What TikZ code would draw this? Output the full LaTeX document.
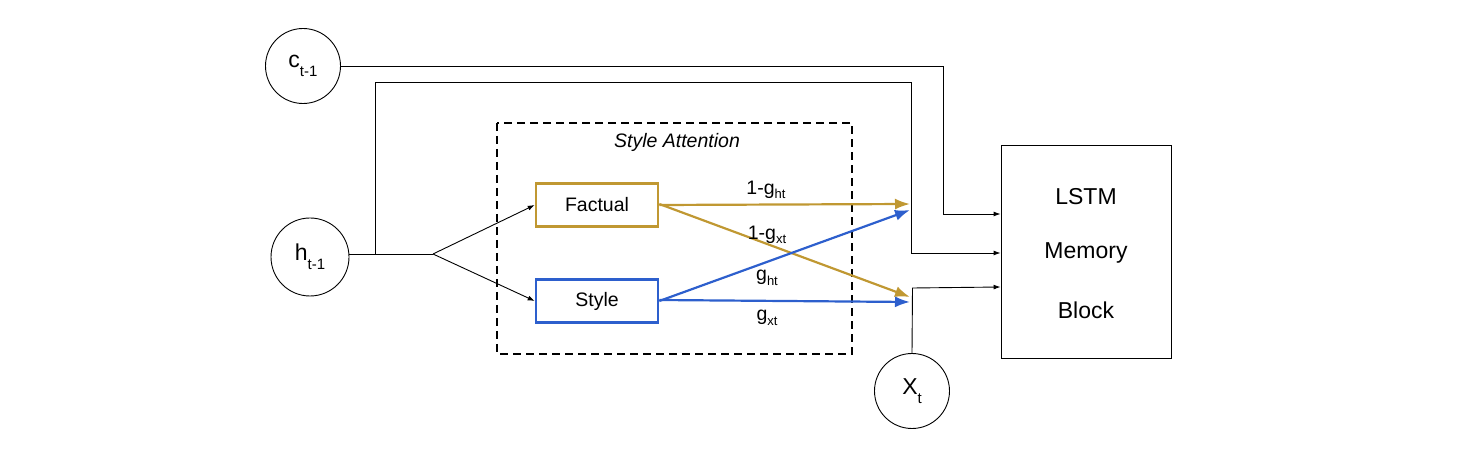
\documentclass[tikz,border=0pt]{standalone}
\usepackage{fontspec}
\setmainfont{Liberation Sans}
\usetikzlibrary{arrows.meta}
\definecolor{gold}{HTML}{C09832}
\definecolor{sblue}{HTML}{2D5FCD}
\newcommand\lsub[1]{\raisebox{-0.45ex}{\fontsize{13}{13}\selectfont #1}}
\newcommand\csub[1]{\raisebox{-0.75ex}{\fontsize{15}{15}\selectfont #1}}
\begin{document}
\begin{tikzpicture}[x=1pt,y=-1pt,
  circ/.style={draw,circle,line width=0.9pt,minimum size=75pt,inner sep=0pt,font=\fontsize{23}{26}\selectfont},
  thin/.style={draw,line width=0.9pt},
  blk/.style={thin,-{Latex[length=7pt,width=5pt]}},
  carrow/.style={line width=2.2pt,-{Latex[length=15pt,width=11pt]}},
  cbox/.style={draw,line width=2.6pt,minimum width=122pt,minimum height=43pt,inner sep=0pt,font=\fontsize{19.5}{22}\selectfont},
  lab/.style={font=\fontsize{19.5}{22}\selectfont,inner sep=0pt}]
\useasboundingbox (0,0) rectangle (1460,462);
\node[circ] (c) at (303,66) {c\csub{t-1}};
\node[circ,minimum size=78pt] (h) at (310,257) {h\csub{t-1}};
\node[circ] (x) at (912,391) {X\csub{t}};
\draw[line width=1.8pt,dash pattern=on 8pt off 5pt] (497,123) rectangle (852,354);
\node[lab,font=\fontsize{19.5}{22}\selectfont\itshape] (sa) at (677,142) {Style Attention};
\node[cbox,draw=gold] (f) at (597,205) {Factual};
\node[cbox,draw=sblue] (s) at (597,301) {Style};
\node[draw,line width=0.9pt,minimum width=170pt,minimum height=213pt,inner sep=0pt] (l) at (1086,251.5) {};
\node[font=\fontsize{23}{26}\selectfont] (t1) at (1086,197) {LSTM};
\node[font=\fontsize{23}{26}\selectfont] (t2) at (1086,253) {Memory};
\node[font=\fontsize{23}{26}\selectfont] (t3) at (1086,310) {Block};
\coordinate (sp) at (433,254);
\coordinate (hv) at (375,254);
\coordinate (g1) at (910,204);
\coordinate (g2) at (910,297);
\coordinate (b1) at (910,210);
\coordinate (b2) at (910,302);
% c path
\draw[blk] (c.east) -- (943,66) -- (943,214) -- (l.west |- 0,214);
% h path
\draw[thin] (h.east |- sp) -- (sp);
\draw[blk] (hv) -- (375,82) -- (911,82) -- (911,253) -- (l.west |- 0,253);
\draw[blk] (sp) -- (f.west);
\draw[blk] (sp) -- (s.west);
% x path
\draw[blk] (x.north) -- (912.5,288) -- (l.west |- 0,287);
% colored arrows
\draw[carrow,gold] (f.east) -- (g1);
\draw[carrow,gold] ([yshift=1pt]f.east) -- (g2);
\draw[carrow,sblue] (s.east) -- (b1);
\draw[carrow,sblue] ([yshift=1pt]s.east) -- (b2);
\node[lab] (l1) at (766,190) {1-g\lsub{ht}};
\node[lab] (l2) at (767,235) {1-g\lsub{xt}};
\node[lab] (l3) at (767,278) {g\lsub{ht}};
\node[lab] (l4) at (767,318) {g\lsub{xt}};
\end{tikzpicture}
\end{document}
